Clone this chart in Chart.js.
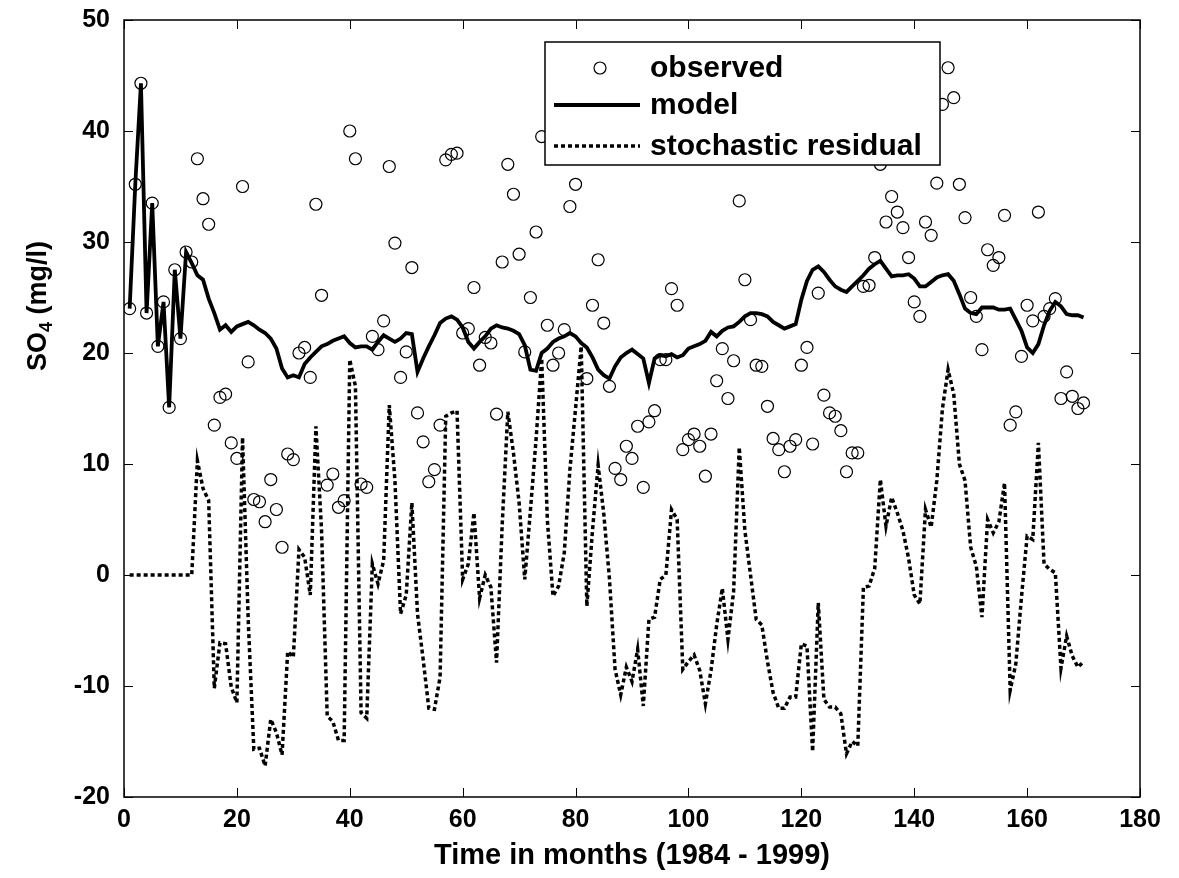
<!DOCTYPE html>
<html>
<head>
<meta charset="utf-8">
<script src="https://cdn.jsdelivr.net/npm/chart.js@4.4.1/dist/chart.umd.min.js"></script>
<style>
  html, body { margin: 0; padding: 0; background: #fff; }
  #wrap { width: 1179px; height: 878px; }
</style>
</head>
<body>
<div id="wrap"><canvas id="so4-plot" width="1179" height="878"></canvas></div>
<script>
// SO4 observed vs model, monthly 1984 - 1999 (months 1..170)
const observed = [
  24.0, 35.2, 44.3, 23.6, 33.5, 20.6, 24.6, 15.1, 27.5, 21.3,
  29.1, 28.2, 37.5, 33.9, 31.6, 13.5, 16.0, 16.3, 11.9, 10.5,
  35.0, 19.2, 6.8, 6.6, 4.8, 8.6, 5.9, 2.5, 10.9, 10.4,
  20.0, 20.5, 17.8, 33.4, 25.2, 8.1, 9.1, 6.1, 6.7, 40.0,
  37.5, 8.2, 7.9, 21.5, 20.3, 22.9, 36.8, 29.9, 17.8, 20.1,
  27.7, 14.6, 12.0, 8.4, 9.5, 13.5, 37.4, 37.9, 38.0, 21.8,
  22.2, 25.9, 18.9, 21.4, 20.9, 14.5, 28.2, 37.0, 34.3, 28.9,
  20.1, 25.0, 30.9, 39.5, 22.5, 18.9, 20.0, 22.1, 33.2, 35.2,
  41.5, 17.7, 24.3, 28.4, 22.7, 17.0, 9.6, 8.6, 11.6, 10.5,
  13.4, 7.9, 13.8, 14.8, 19.4, 19.4, 25.8, 24.3, 11.3, 12.2,
  12.7, 11.6, 8.9, 12.7, 17.5, 20.4, 15.9, 19.3, 33.7, 26.6,
  23.0, 18.9, 18.8, 15.2, 12.3, 11.3, 9.3, 11.6, 12.2, 18.9,
  20.5, 11.8, 25.4, 16.2, 14.6, 14.3, 13.0, 9.3, 11.0, 11.0,
  26.0, 26.1, 28.6, 37.0, 31.8, 34.1, 32.7, 31.3, 28.6, 24.6,
  23.3, 31.8, 30.6, 35.3, 42.4, 45.7, 43.0, 35.2, 32.2, 25.0,
  23.3, 20.3, 29.3, 27.9, 28.6, 32.4, 13.5, 14.7, 19.7, 24.3,
  22.9, 32.7, 23.3, 24.0, 24.9, 15.9, 18.3, 16.1, 15.0, 15.5
];

const model = [
  24.0, 35.2, 44.3, 23.6, 33.5, 20.6, 24.6, 15.1, 27.5, 21.3,
  29.1, 28.1, 27.0, 26.6, 24.9, 23.6, 22.1, 22.5, 21.9, 22.4,
  22.6, 22.8, 22.5, 22.1, 21.8, 21.3, 20.4, 18.6, 17.8, 18.0,
  17.8, 19.0, 19.6, 20.1, 20.6, 20.8, 21.1, 21.3, 21.5, 20.9,
  20.5, 20.6, 20.6, 20.3, 21.0, 21.6, 21.3, 21.0, 21.3, 21.8,
  21.7, 18.3, 19.5, 20.6, 21.6, 22.7, 23.1, 23.3, 23.0, 22.3,
  21.0, 20.4, 21.0, 21.5, 22.2, 22.5, 22.3, 22.2, 22.0, 21.7,
  20.7, 18.5, 18.4, 20.0, 20.4, 21.0, 21.3, 21.5, 21.8, 21.5,
  20.9, 20.5, 19.6, 18.5, 18.0, 17.7, 18.8, 19.6, 20.0, 20.3,
  19.9, 19.5, 17.3, 19.5, 19.8, 19.7, 19.9, 19.6, 19.8, 20.4,
  20.6, 20.8, 21.1, 21.9, 21.5, 22.0, 22.3, 22.4, 22.8, 23.3,
  23.6, 23.6, 23.5, 23.3, 22.8, 22.5, 22.2, 22.4, 22.6, 24.8,
  26.5, 27.5, 27.8, 27.3, 26.6, 26.0, 25.7, 25.5, 26.0, 26.5,
  27.0, 27.6, 28.0, 28.3, 27.6, 26.9, 27.0, 27.0, 27.1, 26.7,
  26.0, 26.0, 26.4, 26.8, 27.0, 27.1, 26.5, 25.3, 24.0, 23.6,
  23.5, 24.1, 24.1, 24.1, 23.9, 23.9, 24.0, 23.0, 22.0, 20.5,
  20.0, 20.8, 22.5, 23.8, 24.6, 24.2, 23.5, 23.4, 23.4, 23.2
];

const residual = [
  0, 0, 0, 0, 0, 0, 0, 0, 0, 0,
  0, 0, 10.3, 7.8, 6.7, -10.2, -6.1, -6.2, -10.1, -11.5,
  12.4, -4.0, -15.7, -15.6, -17.2, -13.0, -14.2, -16.2, -6.9, -7.4,
  2.3, 1.6, -1.8, 13.4, 4.0, -12.7, -13.2, -14.9, -14.9, 19.4,
  17.0, -12.4, -12.9, 1.0, -0.8, 1.3, 15.3, 8.5, -3.5, -1.8,
  6.5, -3.5, -7.6, -12.0, -12.1, -9.2, 14.3, 14.6, 14.8, -0.4,
  1.0, 5.6, -2.1, 0.0, -1.1, -7.9, 4.5, 14.7, 11.0, 6.5,
  -0.4, 5.8, 12.2, 19.5, 5.0, -1.9, -1.0, 2.0, 9.5, 15.0,
  20.6, -2.8, 4.0, 9.9, 5.5, -0.3, -8.5, -10.8, -8.3, -9.6,
  -6.7, -11.8, -4.0, -3.8, -0.4, 0.0, 5.9, 5.0, -8.5, -7.8,
  -7.2, -8.6, -11.6, -8.6, -4.5, -1.2, -5.8, -1.5, 11.5, 4.0,
  0.0, -4.0, -4.5, -7.8, -10.6, -12.0, -12.0, -11.0, -11.0, -6.2,
  -6.4, -15.9, -2.5, -11.2, -11.9, -11.9, -12.5, -16.1, -15.0, -15.4,
  -1.1, -1.0, 0.6, 8.6, 4.4, 7.0, 5.6, 4.0, 1.5, -1.8,
  -2.6, 5.9, 4.3, 8.5, 15.0, 18.5, 16.3, 10.0, 8.5, 2.5,
  0.8, -3.8, 5.0, 3.8, 4.8, 8.3, -10.4, -8.0, -2.0, 3.5,
  3.2, 11.9, 1.0, 0.5, 0.2, -8.4, -5.5, -7.3, -8.3, -7.8
];

const seriesLabels = ['observed', 'model', 'stochastic residual'];
const xTicks = [0, 20, 40, 60, 80, 100, 120, 140, 160, 180];
const yTicks = [-20, -10, 0, 10, 20, 30, 40, 50];

const FONT = '"Liberation Sans", Arial, Helvetica, sans-serif';

// months 1..N along x
const toPoints = arr => arr.map((v, i) => ({ x: i + 1, y: v }));

// MATLAB style box with inward ticks on all four sides
const framePlugin = {
    id: 'matlabFrame',
    afterDraw(chart) {
        const { ctx, chartArea: a, scales: { x, y } } = chart;
        const len = 9;
        ctx.save();
        ctx.strokeStyle = '#000';
        ctx.lineWidth = 1;
        ctx.beginPath();
        x.ticks.forEach(t => {
            const px = Math.round(x.getPixelForValue(t.value)) + 0.5;
            ctx.moveTo(px, a.bottom); ctx.lineTo(px, a.bottom - len);
            ctx.moveTo(px, a.top); ctx.lineTo(px, a.top + len);
        });
        y.ticks.forEach(t => {
            const py = Math.round(y.getPixelForValue(t.value)) + 0.5;
            ctx.moveTo(a.left, py); ctx.lineTo(a.left + len, py);
            ctx.moveTo(a.right, py); ctx.lineTo(a.right - len, py);
        });
        ctx.stroke();
        ctx.lineWidth = 1.5;
        ctx.strokeRect(a.left, a.top, a.right - a.left, a.bottom - a.top);
        ctx.restore();
    }
};

// Legend box inside the axes (white, drawn over the data)
const boxLegendPlugin = {
    id: 'boxLegend',
    afterDatasetsDraw(chart) {
        const ctx = chart.ctx;
        const box = { left: 545, top: 42, right: 940, bottom: 165 };
        const rows = [68, 105, 146];
        const symL = 554, symR = 640, textX = 650;
        ctx.save();
        ctx.fillStyle = '#fff';
        ctx.fillRect(box.left, box.top, box.right - box.left, box.bottom - box.top);
        ctx.strokeStyle = '#000';
        ctx.lineWidth = 1.5;
        ctx.strokeRect(box.left, box.top, box.right - box.left, box.bottom - box.top);

        chart.data.datasets.forEach((ds, i) => {
            const ry = rows[i];
            ctx.strokeStyle = '#000';
            if (ds.showLine === false) {
                ctx.lineWidth = ds.borderWidth;
                ctx.beginPath();
                ctx.arc((symL + symR) / 2 + 3, ry, ds.pointRadius, 0, Math.PI * 2);
                ctx.stroke();
            } else {
                ctx.lineWidth = ds.borderWidth;
                ctx.setLineDash(ds.borderDash || []);
                ctx.beginPath();
                ctx.moveTo(symL, ry);
                ctx.lineTo(symR, ry);
                ctx.stroke();
                ctx.setLineDash([]);
            }
            ctx.fillStyle = '#000';
            ctx.font = `bold 30px ${FONT}`;
            ctx.textBaseline = 'middle';
            ctx.textAlign = 'left';
            ctx.fillText(ds.label, textX, ry + 1);
        });
        ctx.restore();
    }
};

// y axis label with a real subscript
const yTitlePlugin = {
    id: 'yTitle',
    afterDraw(chart) {
        const ctx = chart.ctx;
        const size = 27;
        ctx.save();
        ctx.translate(39, 306);
        ctx.rotate(-Math.PI / 2);
        ctx.fillStyle = '#000';
        ctx.textBaseline = 'middle';
        ctx.textAlign = 'left';
        const big = `bold ${size}px ${FONT}`;
        const small = `bold ${Math.round(size * 0.68)}px ${FONT}`;
        ctx.font = big;
        const w1 = ctx.measureText('SO').width;
        const w3 = ctx.measureText(' (mg/l)').width;
        ctx.font = small;
        const w2 = ctx.measureText('4').width;
        let x0 = -(w1 + w2 + w3) / 2;
        ctx.font = big;
        ctx.fillText('SO', x0, 0);
        ctx.font = small;
        ctx.fillText('4', x0 + w1, 8);
        ctx.font = big;
        ctx.fillText(' (mg/l)', x0 + w1 + w2, 0);
        ctx.restore();
    }
};

const config = {
    type: 'line',
    data: {
        datasets: [
            {
                label: seriesLabels[0],
                data: toPoints(observed),
                showLine: false,
                pointStyle: 'circle',
                pointRadius: 6,
                pointBorderWidth: 1.2,
                borderWidth: 1.2,
                borderColor: '#000',
                backgroundColor: 'rgba(0,0,0,0)',
                pointBackgroundColor: 'rgba(0,0,0,0)',
                order: 1,
            },
            {
                label: seriesLabels[1],
                data: toPoints(model),
                borderColor: '#000',
                borderWidth: 3.8,
                pointRadius: 0,
                tension: 0,
                fill: false,
                order: 2,
            },
            {
                label: seriesLabels[2],
                data: toPoints(residual),
                borderColor: '#000',
                borderWidth: 3.5,
                borderDash: [4, 3],
                borderCapStyle: 'butt',
                pointRadius: 0,
                tension: 0,
                fill: false,
                order: 3,
            },
        ]
    },
    plugins: [boxLegendPlugin, framePlugin, yTitlePlugin],
    options: {
        responsive: false,
        animation: false,
        devicePixelRatio: 1,
        layout: { padding: { top: 20, right: 39, left: 0, bottom: 0 } },
        plugins: {
            legend: { display: false },
            tooltip: { enabled: false },
        },
        scales: {
            x: {
                type: 'linear',
                min: 0,
                max: 180,
                afterBuildTicks: scale => { scale.ticks = xTicks.map(v => ({ value: v })); },
                afterFit: scale => {
                    scale.height = 81;
                    scale.paddingLeft = 0;
                    scale.paddingRight = 0;
                },
                grid: { display: false },
                border: { display: false },
                ticks: {
                    color: '#000',
                    padding: 0,
                    maxRotation: 0,
                    font: { family: FONT, size: 25, weight: 'bold' },
                },
                title: {
                    display: true,
                    text: 'Time in months (1984 - 1999)',
                    color: '#000',
                    padding: { top: 0, bottom: 5 },
                    font: { family: FONT, size: 29, weight: 'bold' },
                },
            },
            y: {
                min: -20,
                max: 50,
                afterBuildTicks: scale => { scale.ticks = yTicks.map(v => ({ value: v })); },
                afterFit: scale => {
                    scale.width = 124;
                    scale.paddingTop = 0;
                    scale.paddingBottom = 0;
                },
                grid: { display: false },
                border: { display: false },
                ticks: {
                    color: '#000',
                    padding: 6,
                    font: { family: FONT, size: 25, weight: 'bold' },
                },
            }
        }
    }
};

new Chart(document.getElementById('so4-plot'), config);
</script>
</body>
</html>
